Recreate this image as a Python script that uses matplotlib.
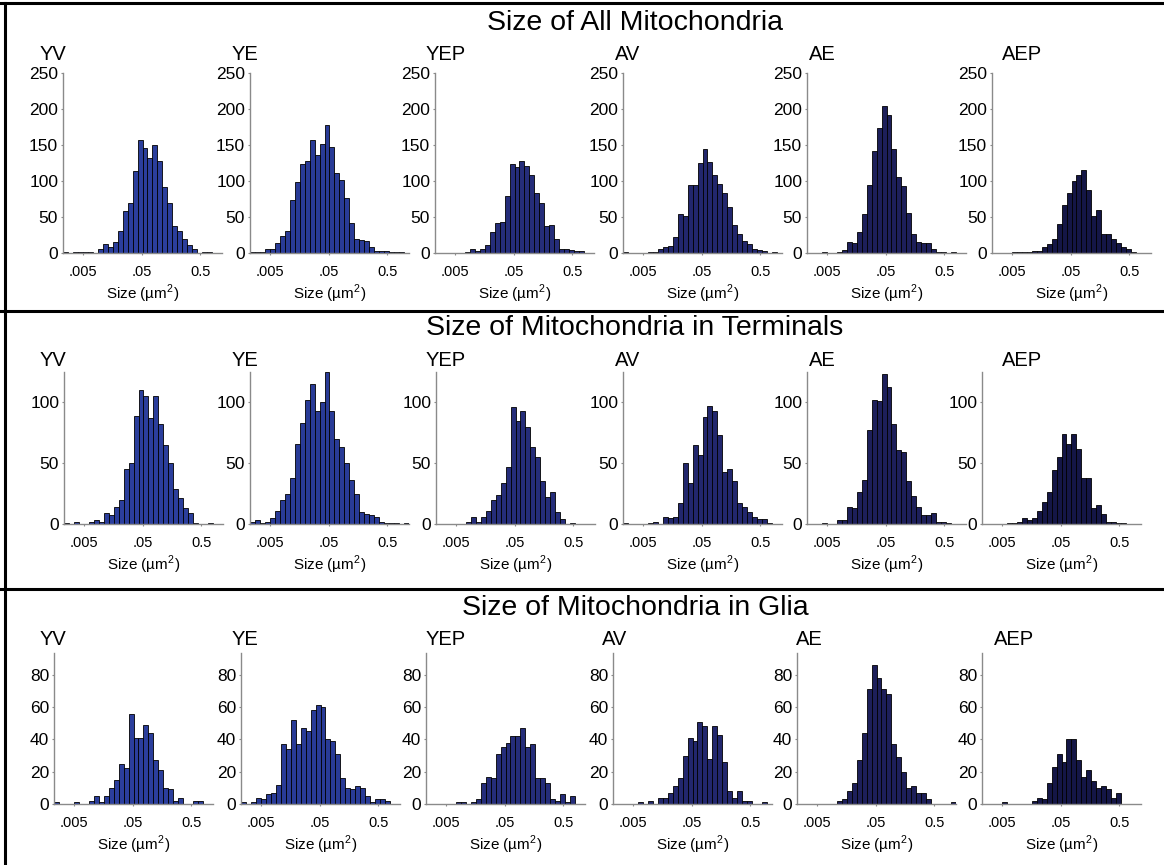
import numpy as np
import matplotlib.pyplot as plt
from matplotlib.lines import Line2D
from matplotlib.ticker import NullLocator

plt.rcParams['font.family'] = ['Liberation Sans', 'DejaVu Sans']
plt.rcParams['mathtext.fontset'] = 'custom'
plt.rcParams['mathtext.rm'] = 'Liberation Sans'

groups = ['YV', 'YE', 'YEP', 'AV', 'AE', 'AEP']
row_titles = ['Size of All Mitochondria',
              'Size of Mitochondria in Terminals',
              'Size of Mitochondria in Glia']
bar_colors = ['#2b3e9c', '#293b97', '#252d7a', '#22276d', '#1d1f5a', '#141646']

# histogram bins, log10 of size in um^2
log_edges = np.linspace(-2.64, 0.068, 33)

# counts per bin, all mitochondria
yv_all = [2, 0, 1, 1, 1, 2, 0, 5, 12, 8, 15, 30, 58, 69, 114, 157, 146, 132, 150, 128, 92, 69, 37, 30, 19, 11, 5, 0, 2, 2, 0, 0]
ye_all = [2, 1, 1, 5, 6, 14, 24, 31, 74, 98, 123, 128, 157, 136, 152, 178, 147, 111, 101, 77, 41, 20, 18, 16, 8, 3, 3, 3, 2, 1, 1, 0]
yep_all = [0, 0, 0, 0, 0, 0, 1, 5, 3, 6, 11, 29, 41, 43, 79, 123, 119, 128, 121, 109, 83, 69, 37, 39, 20, 5, 5, 4, 3, 3, 0, 0]
av_all = [1, 0, 0, 0, 0, 2, 2, 5, 9, 10, 22, 54, 51, 95, 95, 125, 144, 126, 109, 96, 83, 64, 39, 26, 17, 12, 6, 4, 3, 0, 2, 0]
ae_all = [0, 0, 0, 1, 0, 0, 2, 4, 15, 14, 29, 54, 95, 142, 174, 204, 192, 144, 106, 93, 55, 27, 15, 14, 14, 5, 2, 1, 0, 2, 0, 0]
aep_all = [0, 0, 0, 0, 1, 1, 1, 2, 3, 3, 9, 13, 20, 40, 67, 84, 100, 108, 115, 88, 52, 60, 26, 27, 20, 14, 8, 6, 1, 0, 0, 0]

# terminals
yv_term = [1, 0, 2, 0, 0, 2, 3, 2, 9, 7, 14, 20, 45, 50, 89, 110, 105, 87, 105, 82, 65, 50, 29, 21, 13, 9, 1, 0, 0, 1, 0, 0]
ye_term = [2, 3, 1, 2, 5, 11, 20, 25, 38, 66, 83, 102, 115, 93, 100, 125, 93, 70, 63, 50, 36, 25, 10, 8, 7, 6, 2, 1, 1, 1, 0, 1]
yep_term = [0, 0, 0, 0, 0, 0, 2, 6, 2, 6, 11, 20, 24, 34, 47, 96, 85, 93, 80, 63, 55, 35, 22, 26, 10, 4, 0, 1, 0, 0, 0, 0]
av_term = [1, 0, 0, 0, 0, 1, 2, 0, 6, 5, 6, 17, 50, 34, 65, 57, 88, 97, 93, 73, 43, 45, 35, 17, 14, 10, 6, 4, 4, 1, 0, 0]
ae_term = [0, 0, 0, 1, 0, 0, 3, 3, 14, 13, 26, 36, 77, 102, 101, 123, 113, 82, 61, 59, 35, 23, 14, 7, 7, 9, 2, 2, 1, 0, 0, 0]
aep_term = [0, 0, 0, 0, 0, 1, 1, 2, 5, 3, 5, 11, 18, 26, 44, 55, 74, 66, 74, 62, 38, 38, 13, 16, 8, 2, 2, 1, 1, 0, 0, 0]

# glia
yv_glia = [1, 0, 0, 0, 1, 0, 0, 2, 5, 1, 5, 10, 15, 25, 22, 56, 41, 41, 49, 44, 27, 21, 10, 9, 2, 4, 0, 0, 2, 2, 0, 0]
ye_glia = [1, 0, 1, 4, 3, 6, 7, 12, 37, 34, 52, 37, 47, 45, 58, 61, 60, 40, 39, 31, 16, 10, 9, 11, 10, 5, 1, 3, 3, 2, 0, 0]
yep_glia = [0, 0, 0, 0, 0, 0, 1, 1, 0, 1, 3, 13, 17, 16, 31, 35, 38, 42, 42, 47, 35, 37, 16, 16, 13, 3, 2, 6, 1, 5, 0, 0]
av_glia = [0, 0, 0, 0, 0, 1, 0, 2, 0, 4, 4, 7, 11, 16, 30, 41, 39, 51, 48, 28, 48, 43, 26, 8, 4, 8, 2, 2, 0, 0, 1, 0]
ae_glia = [0, 0, 0, 0, 0, 0, 0, 0, 2, 3, 8, 13, 27, 44, 71, 86, 78, 71, 68, 37, 29, 20, 10, 11, 7, 7, 3, 0, 0, 0, 0, 1]
aep_glia = [0, 0, 0, 0, 1, 0, 0, 0, 0, 0, 2, 4, 3, 13, 23, 31, 26, 40, 40, 27, 17, 21, 14, 10, 11, 9, 4, 7, 0, 0, 0, 0]

rows = [[yv_all, ye_all, yep_all, av_all, ae_all, aep_all],
        [yv_term, ye_term, yep_term, av_term, ae_term, aep_term],
        [yv_glia, ye_glia, yep_glia, av_glia, ae_glia, aep_glia]]

y_max = [250, 125, 93.5]
y_ticks = [[0, 50, 100, 150, 200, 250], [0, 50, 100], [0, 20, 40, 60, 80]]

# layout in pixels
W, H = 1164, 865
row_lefts = [[63, 250, 435, 623, 807, 992],
             [64, 250, 436, 623, 807, 982],
             [54, 241, 426, 613, 797, 982]]
row_top = [73, 372, 653]
row_bottom = [253, 524, 804]
ax_w = 159
label_x = [[40, 232, 426, 615, 809, 1002],
           [40, 232, 426, 615, 809, 1002],
           [40, 232, 426, 602, 796, 994]]
label_base = [60, 366, 645]
title_y = [23, 328, 608]

fig = plt.figure(figsize=(W / 100, H / 100), dpi=100)

edges = 10 ** log_edges
grey = '#8a8a8a'

for r in range(3):
    fig.text(635 / W, 1 - title_y[r] / H, row_titles[r], fontsize=20.5,
             ha='center', va='center')
    for c in range(6):
        left = row_lefts[r][c]
        top = row_top[r]
        hgt = row_bottom[r] - top
        ax = fig.add_axes([left / W, 1 - row_bottom[r] / H, ax_w / W, hgt / H])
        ax.bar(edges[:-1], rows[r][c], width=np.diff(edges), align='edge',
               color=bar_colors[c], edgecolor='black', linewidth=0.6)
        ax.set_xscale('log')
        ax.set_xlim(edges[0], edges[-1])
        ax.set_ylim(0, y_max[r])
        ax.set_xticks([0.005, 0.05, 0.5])
        ax.set_xticklabels(['.005', '.05', '0.5'])
        ax.xaxis.set_minor_locator(NullLocator())
        ax.set_yticks(y_ticks[r])
        ax.tick_params(axis='x', labelsize=10.5, length=1.5, color=grey, pad=7)
        ax.tick_params(axis='y', labelsize=12.5, length=1.5, color=grey, pad=2)
        for s in ['top', 'right']:
            ax.spines[s].set_visible(False)
        for s in ['left', 'bottom']:
            ax.spines[s].set_color(grey)
            ax.spines[s].set_linewidth(1.0)
        ax.set_xlabel('Size (µm$^2$)', fontsize=11, labelpad=3)
        fig.text(label_x[r][c] / W, 1 - label_base[r] / H, groups[c],
                 fontsize=14.5, ha='left', va='baseline')

# frame lines between the three blocks
for yy in [3, 311, 589]:
    fig.add_artist(Line2D([0, 1], [1 - yy / H, 1 - yy / H], color='black',
                          linewidth=2.2, transform=fig.transFigure))
fig.add_artist(Line2D([5 / W, 5 / W], [0, 1 - 3 / H], color='black',
                      linewidth=2.2, transform=fig.transFigure))

fig.savefig('out.png', dpi=100)
